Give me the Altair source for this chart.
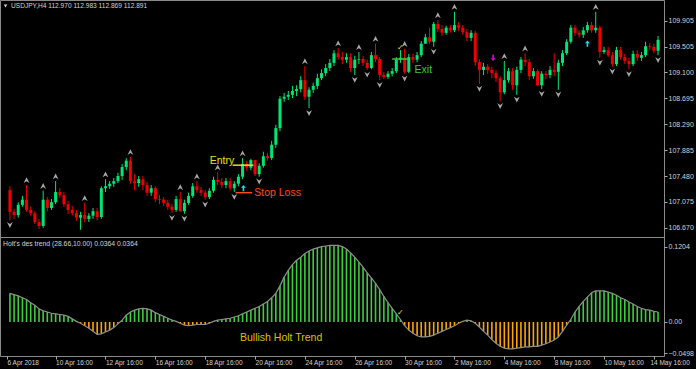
import altair as alt
import pandas as pd

# ---------------- data ----------------
first_open = 107.26
close = [106.92, 106.87, 107.03, 107.11, 106.95, 106.90, 106.76, 106.70, 107.11, 106.98,
         107.07, 107.23, 107.18, 107.04, 106.95, 106.90, 106.83, 106.87, 106.81, 106.86,
         106.93, 106.84, 107.29, 107.32, 107.36, 107.40, 107.48, 107.62, 107.72, 107.40,
         107.37, 107.43, 107.34, 107.22, 107.29, 107.12, 107.11, 107.06, 107.00, 106.95,
         107.12, 106.93, 107.06, 107.17, 107.32, 107.26, 107.22, 107.15, 107.25, 107.42,
         107.39, 107.34, 107.40, 107.29, 107.36, 107.47, 107.67, 107.61, 107.73, 107.51,
         107.64, 107.79, 107.76, 107.97, 108.23, 108.69, 108.72, 108.75, 108.81, 108.84,
         108.98, 108.72, 108.83, 108.89, 109.01, 109.09, 109.17, 109.25, 109.40, 109.34,
         109.30, 109.34, 109.17, 109.30, 109.31, 109.25, 109.17, 109.37, 109.31, 109.06,
         109.03, 109.08, 109.12, 109.30, 109.33, 109.11, 109.34, 109.30, 109.37, 109.55,
         109.65, 109.58, 109.86, 109.78, 109.72, 109.80, 109.76, 109.84, 109.80, 109.73,
         109.64, 109.72, 109.26, 109.14, 109.19, 109.14, 109.09, 109.01, 108.79, 108.98,
         109.12, 108.90, 109.14, 109.30, 109.26, 109.04, 109.12, 108.90, 109.08, 109.06,
         109.14, 109.11, 109.25, 109.40, 109.58, 109.80, 109.72, 109.69, 109.76, 109.84,
         109.76, 109.80, 109.42, 109.45, 109.37, 109.23, 109.45, 109.34, 109.28, 109.23,
         109.39, 109.33, 109.37, 109.51, 109.50, 109.44, 109.61]
high = [107.32, 106.97, 107.07, 107.17, 107.34, 107.00, 106.93, 106.81, 107.25, 107.15,
        107.12, 107.40, 107.29, 107.23, 107.09, 107.01, 106.95, 106.92, 107.06, 106.90,
        106.98, 106.98, 107.32, 107.43, 107.40, 107.45, 107.53, 107.67, 107.76, 107.78,
        107.51, 107.48, 107.48, 107.39, 107.34, 107.32, 107.18, 107.15, 107.11, 107.04,
        107.17, 107.23, 107.11, 107.22, 107.37, 107.40, 107.31, 107.26, 107.29, 107.47,
        107.54, 107.45, 107.45, 107.45, 107.40, 107.51, 107.76, 107.72, 107.75, 107.73,
        107.68, 107.86, 107.84, 108.03, 108.28, 108.73, 108.78, 108.81, 108.89, 108.90,
        109.04, 109.20, 108.87, 108.94, 109.08, 109.15, 109.23, 109.31, 109.45, 109.48,
        109.42, 109.40, 109.40, 109.36, 109.42, 109.36, 109.30, 109.42, 109.55, 109.34,
        109.11, 109.12, 109.17, 109.34, 109.45, 109.47, 109.39, 109.39, 109.42, 109.59,
        109.70, 109.80, 109.89, 109.92, 109.84, 109.83, 109.84, 110.05, 109.89, 109.84,
        109.78, 109.76, 109.75, 109.31, 109.25, 109.23, 109.19, 109.14, 109.04, 109.28,
        109.17, 109.17, 109.19, 109.34, 109.40, 109.31, 109.17, 109.15, 109.12, 109.12,
        109.20, 109.40, 109.30, 109.45, 109.62, 109.84, 109.84, 109.76, 109.81, 109.89,
        109.89, 110.05, 109.83, 109.50, 109.50, 109.42, 109.50, 109.50, 109.39, 109.33,
        109.44, 109.45, 109.42, 109.58, 109.56, 109.55, 109.67]
low = [106.79, 106.81, 106.83, 107.00, 106.92, 106.86, 106.73, 106.65, 106.67, 106.93,
       106.95, 107.04, 107.14, 107.00, 106.89, 106.86, 106.78, 106.64, 106.76, 106.76,
       106.81, 106.79, 106.81, 107.23, 107.28, 107.31, 107.37, 107.42, 107.57, 107.36,
       107.26, 107.31, 107.26, 107.17, 107.17, 107.07, 107.04, 107.01, 106.95, 106.90,
       106.92, 106.92, 106.89, 107.03, 107.14, 107.22, 107.17, 107.11, 107.12, 107.22,
       107.34, 107.29, 107.29, 107.26, 107.23, 107.32, 107.43, 107.56, 107.57, 107.48,
       107.47, 107.61, 107.72, 107.73, 107.92, 108.18, 108.64, 108.67, 108.70, 108.73,
       108.79, 108.67, 108.54, 108.78, 108.84, 108.98, 109.04, 109.12, 109.20, 109.30,
       109.23, 109.25, 109.11, 109.06, 109.23, 109.20, 109.14, 109.15, 109.26, 108.98,
       109.00, 109.00, 109.04, 109.09, 109.25, 109.08, 109.09, 109.25, 109.26, 109.34,
       109.55, 109.55, 109.50, 109.73, 109.67, 109.69, 109.72, 109.73, 109.75, 109.69,
       109.59, 109.59, 109.20, 108.92, 109.06, 109.08, 109.01, 108.95, 108.65, 108.76,
       108.94, 108.83, 108.75, 109.09, 109.20, 108.98, 109.00, 108.89, 108.84, 109.00,
       109.01, 109.04, 108.83, 109.20, 109.37, 109.55, 109.67, 109.64, 109.64, 109.72,
       109.72, 109.72, 109.33, 109.39, 109.34, 109.19, 109.20, 109.30, 109.23, 109.15,
       109.20, 109.28, 109.28, 109.34, 109.45, 109.40, 109.37]
holt = [0.046, 0.044, 0.042, 0.039, 0.036, 0.031, 0.027, 0.021, 0.018, 0.016,
        0.014, 0.013, 0.012, 0.011, 0.009, 0.005, 0.001, -0.002, -0.006, -0.010,
        -0.015, -0.020, -0.019, -0.016, -0.013, -0.009, -0.003, 0.003, 0.011, 0.016,
        0.019, 0.021, 0.022, 0.021, 0.019, 0.015, 0.012, 0.009, 0.006, 0.003,
        0.001, -0.002, -0.005, -0.006, -0.005, -0.004, -0.004, -0.004, -0.002, 0.001,
        0.003, 0.004, 0.005, 0.006, 0.008, 0.010, 0.013, 0.016, 0.019, 0.022,
        0.025, 0.029, 0.033, 0.039, 0.046, 0.058, 0.072, 0.083, 0.092, 0.099,
        0.104, 0.110, 0.114, 0.117, 0.119, 0.121, 0.122, 0.123, 0.123, 0.123,
        0.121, 0.117, 0.111, 0.104, 0.096, 0.088, 0.079, 0.071, 0.062, 0.052,
        0.041, 0.031, 0.022, 0.013, 0.004, -0.006, -0.013, -0.018, -0.022, -0.024,
        -0.024, -0.023, -0.021, -0.018, -0.015, -0.012, -0.009, -0.006, -0.002, 0.001,
        0.003, 0.002, -0.002, -0.008, -0.015, -0.021, -0.028, -0.034, -0.039, -0.042,
        -0.043, -0.043, -0.042, -0.041, -0.040, -0.040, -0.039, -0.039, -0.037, -0.035,
        -0.032, -0.029, -0.024, -0.015, -0.005, 0.004, 0.016, 0.025, 0.033, 0.040,
        0.047, 0.050, 0.050, 0.050, 0.048, 0.046, 0.043, 0.039, 0.036, 0.032,
        0.029, 0.025, 0.022, 0.020, 0.019, 0.017, 0.016]
up_fractals = [4, 8, 11, 18, 23, 29, 41, 45, 50, 56, 71, 79, 84, 88, 95, 103, 107, 119, 124, 141]
down_fractals = [0, 39, 42, 47, 54, 60, 72, 83, 86, 89, 95, 102, 113, 118, 122, 128, 132, 142, 145, 149, 156]

tick_bars = [-0.7, 11, 23, 35, 47, 59, 71, 83, 95, 107, 119, 131, 143, 155]
tick_labels = ["6 Apr 2018", "10 Apr 16:00", "12 Apr 16:00", "16 Apr 16:00", "18 Apr 16:00",
               "20 Apr 16:00", "24 Apr 16:00", "26 Apr 16:00", "30 Apr 16:00", "2 May 16:00",
               "4 May 16:00", "8 May 16:00", "10 May 16:00", "14 May 16:00"]
price_ticks = [106.670, 107.075, 107.480, 107.885, 108.290, 108.695, 109.100, 109.505, 109.905]
holt_ticks = [0.1204, 0.0, -0.0498]

# trade annotations
level_names = ["Entry", "Stop Loss", "Exit"]
level_start = [53.6, 54.3, 92.0]
level_end = [58.6, 58.3, 95.8]
level_price = [107.65, 107.22, 109.31]
label_bar = [54.0, 58.8, 97.4]
label_price = [107.72, 107.22, 109.14]
signal_bars = [56.2, 139.0, 116.3]
signal_price = [107.29, 109.55, 109.33]
signal_kind = ["buy", "buy", "sell"]
check_bar = [94.0]
check_price = [109.48]
check_holt = [0.0144]

title_main = "USDJPY,H4  112.970 112.983 112.869 112.891"
title_ind = "Holt's des trend (28.66,10.00) 0.0364 0.0364"
trend_text = "Bullish Holt Trend"

# ---------------- tables ----------------
opens = [first_open] + close[:-1]
df = pd.DataFrame({"bar": list(range(len(close))), "open": opens, "high": high,
                   "low": low, "close": close, "holt": holt})
df["dir"] = ["up" if c >= o else "down" for o, c in zip(opens, close)]
df["sign"] = ["pos" if v >= 0 else "neg" for v in holt]
df["zero"] = 0.0
df_up = df.iloc[up_fractals].copy()
df_dn = df.iloc[down_fractals].copy()
levels = pd.DataFrame({"name": level_names, "start": level_start, "end": level_end,
                       "price": level_price, "lbar": label_bar, "lprice": label_price})
signals = pd.DataFrame({"bar": signal_bars, "price": signal_price, "kind": signal_kind})
checks = pd.DataFrame({"bar": check_bar, "price": check_price, "holt": check_holt})

FONT = "Liberation Sans"
GREEN = "#00E676"
RED = "#F20000"
GRAY = "#A8A8A8"
TXT = "#D2D2D2"

x_scale = alt.Scale(domain=[-1.185, 156.23], nice=False, zero=False)
p_scale = alt.Scale(domain=[104.666, 110.233], nice=False, zero=False)
h_scale = alt.Scale(domain=[-0.05457, 0.5168], nice=False, zero=False)
dir_color = alt.Color("dir:N", scale=alt.Scale(domain=["up", "down"], range=[GREEN, RED]), legend=None)

label_js = "[" + ",".join("'%s'" % t for t in tick_labels) + "]"
bars_js = "[" + ",".join(str(b) for b in tick_bars) + "]"
x_axis = alt.Axis(values=tick_bars, labelExpr=f"{label_js}[indexof({bars_js}, datum.value)]",
                  title=None, grid=False, domain=False, ticks=True, tickSize=3, tickColor=GRAY,
                  labelAlign="left", labelBaseline="top", labelPadding=0, labelFont=FONT,
                  labelFontSize=6.5, labelColor=TXT, labelOverlap=False, labelFlush=False,
                  labelBound=False,
                  labelOffset={"condition": {"test": "datum.value > 150", "value": -4}, "value": 0})


def XF(field):
    return alt.X(field, scale=x_scale, axis=x_axis)


X = XF("bar:Q")

price_axis = alt.Axis(orient="right", values=price_ticks, format=".3f", title=None, grid=False,
                      domain=False, tickSize=3, tickColor=GRAY, labelPadding=1, labelFont=FONT,
                      labelFontSize=7, labelColor=TXT, labelOverlap=False, labelFlush=False,
                      labelBound=False)
holt_axis = alt.Axis(orient="right", values=holt_ticks,
                     labelExpr="datum.value == 0 ? '0.00' : format(datum.value, '.4f')",
                     title=None, grid=False, domain=False, tickSize=3, tickColor=GRAY,
                     labelPadding=1, labelFont=FONT, labelFontSize=7, labelColor=TXT,
                     labelOverlap=False, labelFlush=False, labelBound=False)

base = alt.Chart(df)

# indicator histogram
hist = base.mark_rule(strokeWidth=1.6).encode(
    x=X,
    y=alt.Y("holt:Q", scale=h_scale, axis=holt_axis),
    y2="zero:Q",
    color=alt.Color("sign:N", scale=alt.Scale(domain=["pos", "neg"], range=["#3CCF3C", "#FFA500"]),
                    legend=None),
)
hline = base.mark_line(color="#8E8E8E", strokeWidth=1.2).encode(
    x=X, y=alt.Y("holt:Q", scale=h_scale, axis=None))

sep = alt.Chart(pd.DataFrame({"k": [0]})).mark_rule(color="#8A8A8A", strokeWidth=1).encode(
    x=alt.value(0), x2=alt.value(664), y=alt.value(237.5))

# candles
wick = base.mark_rule(strokeWidth=1).encode(
    x=X, y=alt.Y("low:Q", scale=p_scale, axis=price_axis), y2="high:Q", color=dir_color)
body = base.mark_bar(size=3).encode(
    x=X, y=alt.Y("open:Q", scale=p_scale, axis=None), y2="close:Q", color=dir_color)

up_shape = "M0,-1L1,1L0,0.35L-1,1Z"
dn_shape = "M0,1L1,-1L0,-0.35L-1,-1Z"
frac_up = alt.Chart(df_up).transform_calculate(pos="datum.high + 0.075").mark_point(
    shape=up_shape, filled=True, size=34, color=GRAY, opacity=1).encode(
    x=X, y=alt.Y("pos:Q", scale=p_scale, axis=None))
frac_dn = alt.Chart(df_dn).transform_calculate(pos="datum.low - 0.075").mark_point(
    shape=dn_shape, filled=True, size=34, color=GRAY, opacity=1).encode(
    x=X, y=alt.Y("pos:Q", scale=p_scale, axis=None))

arrow_up = "M0,-1L0.75,-0.15L0.25,-0.15L0.25,1L-0.25,1L-0.25,-0.15L-0.75,-0.15Z"
arrow_dn = "M0,1L0.75,0.15L0.25,0.15L0.25,-1L-0.25,-1L-0.25,0.15L-0.75,0.15Z"
sig_buy = alt.Chart(signals).transform_filter("datum.kind == 'buy'").mark_point(
    shape=arrow_up, filled=True, size=40, color="#00E5FF", opacity=1).encode(
    x=X, y=alt.Y("price:Q", scale=p_scale, axis=None))
sig_sell = alt.Chart(signals).transform_filter("datum.kind == 'sell'").mark_point(
    shape=arrow_dn, filled=True, size=40, color="#E000E0", opacity=1).encode(
    x=X, y=alt.Y("price:Q", scale=p_scale, axis=None))

lvl_color = alt.Color("name:N", scale=alt.Scale(domain=level_names,
                                                 range=["#E6E21E", "#FF4A1A", "#3CC83C"]), legend=None)
lvl_lines = alt.Chart(levels).mark_rule(strokeWidth=1.5).encode(
    x=XF("start:Q"), x2="end:Q",
    y=alt.Y("price:Q", scale=p_scale, axis=None), color=lvl_color)
entry_txt = alt.Chart(levels).transform_filter("datum.name == 'Entry'").mark_text(
    font=FONT, fontSize=10.5, align="right", baseline="middle").encode(
    x=XF("lbar:Q"), y=alt.Y("lprice:Q", scale=p_scale, axis=None),
    text="name:N", color=lvl_color)
other_txt = alt.Chart(levels).transform_filter("datum.name != 'Entry'").mark_text(
    font=FONT, fontSize=10.5, align="left", baseline="middle").encode(
    x=XF("lbar:Q"), y=alt.Y("lprice:Q", scale=p_scale, axis=None),
    text="name:N", color=lvl_color)
check1 = alt.Chart(checks).mark_text(text="✓", font="DejaVu Sans", fontSize=8, color="#E6E21E").encode(
    x=X, y=alt.Y("price:Q", scale=p_scale, axis=None))
check2 = alt.Chart(checks).mark_text(text="✓", font="DejaVu Sans", fontSize=8, color="#E6E21E").encode(
    x=X, y=alt.Y("holt:Q", scale=h_scale, axis=None))

one = pd.DataFrame({"k": [0]})
t_main = alt.Chart(one).mark_text(text=title_main, font=FONT, fontSize=6.6, color=TXT,
                                  align="left", baseline="middle").encode(
    x=alt.value(11), y=alt.value(6))
t_tri = alt.Chart(one).mark_point(shape="triangle-down", filled=True, size=12, color=TXT,
                                  opacity=1).encode(x=alt.value(5.5), y=alt.value(6))
t_ind = alt.Chart(one).mark_text(text=title_ind, font=FONT, fontSize=6.8, color=TXT,
                                 align="left", baseline="middle").encode(
    x=alt.value(3), y=alt.value(244))
t_trend = alt.Chart(one).mark_text(text=trend_text, font=FONT, fontSize=10.5, color="#DCC000",
                                   align="left", baseline="middle").encode(
    x=alt.value(240), y=alt.value(338))

chart = alt.layer(
    hist, hline, sep, wick, body, frac_up, frac_dn, sig_buy, sig_sell,
    lvl_lines, entry_txt, other_txt, check1, check2, t_main, t_tri, t_ind, t_trend,
).resolve_scale(y="independent", color="independent").properties(
    width=664, height=356,
    autosize=alt.AutoSizeParams(type="none"),
    padding={"left": 0, "top": 0, "right": 32, "bottom": 13},
    background="#000000",
).configure_view(stroke="#8A8A8A", strokeWidth=1)

chart.save("out.html", embed_options={"renderer": "svg", "actions": False})
